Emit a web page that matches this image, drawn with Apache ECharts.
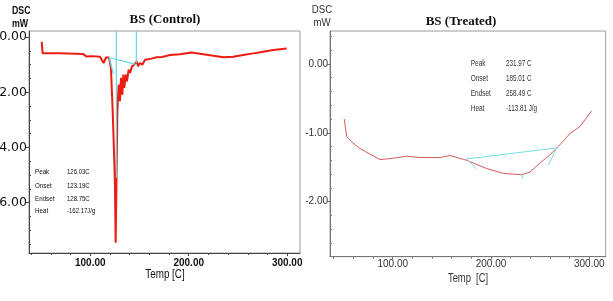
<!DOCTYPE html>
<html>
<head>
<meta charset="utf-8">
<script src="https://cdn.jsdelivr.net/npm/echarts@6/dist/echarts.min.js"></script>
<style>
html,body{margin:0;padding:0;background:#fff;}
#chart{width:613px;height:301px;}
</style>
</head>
<body>
<div id="chart"></div>
<script>
// ---------- DATA ----------
// BS (Control) DSC curve
const controlTemp = [50.7, 51.7, 69.3, 92.6, 96.0, 101.4, 109.9, 113.5, 116.0, 119.0, 121.0, 122.8, 124.1, 125.1, 125.8, 126.9, 127.5, 128.9, 130.2, 131.2, 132.6, 133.6, 134.6, 136.0, 137.3, 139.0, 140.4, 142.4, 144.7, 147.2, 148.5, 150.5, 152.9, 155.6, 158.9, 162.0, 167.5, 173.0, 181.0, 191.2, 203.0, 214.8, 225.0, 235.1, 245.3, 255.4, 265.6, 275.7, 285.9, 299.5];
const controlDSC  = [-0.17, -0.59, -0.59, -0.61, -0.70, -0.69, -0.71, -0.94, -0.74, -0.74, -1.12, -2.69, -4.14, -5.35, -7.45, -4.50, -2.69, -1.72, -2.32, -1.48, -2.09, -1.36, -1.84, -1.36, -1.60, -1.18, -1.30, -1.06, -1.00, -0.88, -1.06, -0.94, -1.00, -0.82, -0.80, -0.78, -0.73, -0.72, -0.65, -0.62, -0.56, -0.62, -0.68, -0.73, -0.71, -0.65, -0.59, -0.53, -0.47, -0.41];
// BS (Treated) DSC curve
const treatedTemp = [50.7, 53.2, 59.6, 66.7, 76.9, 87.1, 100.6, 114.2, 127.8, 148.1, 158.3, 175.3, 195.6, 212.5, 231.2, 239.7, 249.8, 260.0, 268.5, 280.4, 290.5, 302.4];
const treatedDSC  = [-0.80, -1.06, -1.15, -1.23, -1.31, -1.39, -1.37, -1.34, -1.36, -1.36, -1.33, -1.40, -1.52, -1.59, -1.61, -1.57, -1.44, -1.32, -1.20, -1.01, -0.91, -0.68];
// analysis construction lines (each: [T1, v1, T2, v2])
const controlMarks = [
  [126.5, 0.22, 126.5, -5.10],
  [146.8, 0.22, 146.8, -0.94],
  [119.0, -0.74, 147.2, -1.00],
  [119.0, -0.74, 123.6, -1.34]
];
const treatedMarks = [
  [175.3, -1.38, 266.8, -1.22],
  [175.3, -1.38, 185.5, -1.53],
  [258.3, -1.47, 266.8, -1.22],
  [232.2, -1.60, 232.2, -1.66]
];
// tick labels
const xTicks = [100, 200, 300];
const controlYTicks = [0, -2, -4, -6];
const treatedYTicks = [0, -1, -2];
// annotation texts
const annotLabels = ['Peak', 'Onset', 'Endset', 'Heat'];
const controlValues = ['126.03C', '123.19C', '128.75C', '-162.17J/g'];
const treatedValues = ['231.97 C', '185.01 C', '258.49 C', '-113.81 J/g'];
const titles = ['BS (Control)', 'BS (Treated)'];

// ---------- BUILD ----------
function zip(a, b) { return a.map((t, i) => [t, b[i]]); }
function minorList(min, max, step, majors) {
  const out = [];
  const start = Math.ceil(min / step) * step;
  for (let v = start; v <= max + 1e-9; v += step) {
    const r = Math.round(v * 1000) / 1000;
    if (!majors.some(m => Math.abs(m - r) < 1e-6)) out.push(r);
  }
  return out;
}

const X0 = [37.8, 313], Y0 = [-7.82, 0.22];
const X1 = [36.2, 316.7], Y1 = [-2.80, 0.478];
const sans = "'Liberation Sans', Arial, sans-serif";

function majorX(grid, ext, color, margin, font) {
  return {
    type: 'value', gridIndex: grid, min: ext[0], max: ext[1], position: 'bottom',
    splitLine: { show: false },
    axisLine: { show: true, onZero: false, lineStyle: { color: color, width: 1 } },
    axisTick: { show: true, length: 3, customValues: xTicks, lineStyle: { color: color } },
    axisLabel: { show: true, customValues: xTicks, margin: margin, color: font.color, fontFamily: sans, fontSize: 10, fontWeight: font.weight, formatter: v => v.toFixed(2) }
  };
}
function minorX(grid, ext, color) {
  return {
    type: 'value', gridIndex: grid, min: ext[0], max: ext[1], position: 'bottom',
    splitLine: { show: false }, axisLine: { show: false, onZero: false },
    axisTick: { show: true, length: 2, customValues: minorList(ext[0], ext[1], 20, xTicks), lineStyle: { color: color } },
    axisLabel: { show: false }
  };
}
function majorY(grid, ext, ticks, color, lab) {
  return {
    type: 'value', gridIndex: grid, min: ext[0], max: ext[1], position: 'left',
    splitLine: { show: false },
    axisLine: { show: true, onZero: false, lineStyle: { color: color, width: 1 } },
    axisTick: { show: true, length: 3, customValues: ticks, lineStyle: { color: color } },
    axisLabel: Object.assign({ show: true, customValues: ticks, formatter: v => v.toFixed(2) }, lab)
  };
}
function minorY(grid, ext, step, ticks, color) {
  return {
    type: 'value', gridIndex: grid, min: ext[0], max: ext[1], position: 'left',
    splitLine: { show: false }, axisLine: { show: false, onZero: false },
    axisTick: { show: true, inside: true, length: 2, customValues: minorList(ext[0], ext[1], step, ticks), lineStyle: { color: color } },
    axisLabel: { show: false }
  };
}

const series = [];
series.push({ type: 'line', xAxisIndex: 0, yAxisIndex: 0, data: zip(controlTemp, controlDSC), showSymbol: false, symbol: 'none', lineStyle: { color: '#ee1b12', width: 2 }, z: 3, animation: false });
controlMarks.forEach(m => series.push({ type: 'line', xAxisIndex: 0, yAxisIndex: 0, data: [[m[0], m[1]], [m[2], m[3]]], symbol: 'none', lineStyle: { color: '#62dbe6', width: 1.2 }, z: 4, animation: false }));
series.push({ type: 'line', xAxisIndex: 2, yAxisIndex: 2, data: zip(treatedTemp, treatedDSC), showSymbol: false, symbol: 'none', lineStyle: { color: '#d65a5a', width: 1 }, z: 3, animation: false });
treatedMarks.forEach(m => series.push({ type: 'line', xAxisIndex: 2, yAxisIndex: 2, data: [[m[0], m[1]], [m[2], m[3]]], symbol: 'none', lineStyle: { color: '#72dde8', width: 1 }, z: 4, animation: false }));

const graphics = [];
function txt(x, y, s, style, sx) {
  graphics.push({ type: 'text', x: x, y: y, scaleX: sx || 1, style: Object.assign({ text: s, fill: '#222', textVerticalAlign: 'middle' }, style) });
}
// control texts
txt(12, 11, 'DSC', { font: "bold 11px " + sans, fill: '#111' }, 0.8);
txt(12, 24, 'mW', { font: "bold 11px " + sans, fill: '#111' }, 0.8);
txt(165, 20, titles[0], { font: "bold 13px 'Liberation Serif', serif", fill: '#111', textAlign: 'center' });
txt(165, 275, 'Temp [C]', { font: "12px " + sans, fill: '#111', textAlign: 'center' }, 0.82);
const cY = [172, 185.5, 198.7, 211];
annotLabels.forEach((l, i) => {
  txt(35, cY[i], l, { font: "8px " + sans, fill: '#111' }, 0.78);
  txt(67, cY[i], controlValues[i], { font: "8px " + sans, fill: '#111' }, 0.75);
});
// treated texts
txt(322, 9.5, 'DSC', { font: "11px " + sans, fill: '#333', textAlign: 'center' }, 0.88);
txt(322, 23, 'mW', { font: "11px " + sans, fill: '#333', textAlign: 'center' }, 0.88);
txt(461, 22, titles[1], { font: "bold 13px 'Liberation Serif', serif", fill: '#111', textAlign: 'center' });
txt(468, 279, 'Temp  [C]', { font: "12px " + sans, fill: '#333', textAlign: 'center' }, 0.78);
const tY = [63.5, 78.5, 93.5, 108.5];
annotLabels.forEach((l, i) => {
  txt(470.7, tY[i], l, { font: "9px " + sans, fill: '#333' }, 0.72);
  txt(506, tY[i], treatedValues[i], { font: "9px " + sans, fill: '#333' }, 0.7);
});

const option = {
  backgroundColor: '#fff',
  animation: false,
  grid: [
    { left: 29, top: 31, width: 271, height: 222, show: true, borderColor: '#9a9a9a', borderWidth: 1, containLabel: false, outerBoundsMode: 'none' },
    { left: 330, top: 31, width: 275.7, height: 225.7, show: true, borderColor: '#9a9a9a', borderWidth: 1, containLabel: false, outerBoundsMode: 'none' }
  ],
  xAxis: [
    majorX(0, X0, '#444', 5, { color: '#111', weight: 'bold' }),
    minorX(0, X0, '#444'),
    majorX(1, X1, '#777', 3, { color: '#333', weight: 'normal' }),
    minorX(1, X1, '#777')
  ],
  yAxis: [
    majorY(0, Y0, controlYTicks, '#444', { margin: 2, color: '#111', fontFamily: "'DejaVu Sans', sans-serif", fontSize: 12.5 }),
    minorY(0, Y0, 0.5, controlYTicks, '#444'),
    majorY(1, Y1, treatedYTicks, '#777', { margin: 2, color: '#333', fontFamily: sans, fontSize: 10 }),
    minorY(1, Y1, 0.2, treatedYTicks, '#777')
  ],
  series: series,
  graphic: graphics
};
const chart = echarts.init(document.getElementById('chart'), null, { renderer: 'canvas' });
chart.setOption(option);
</script>
</body>
</html>
